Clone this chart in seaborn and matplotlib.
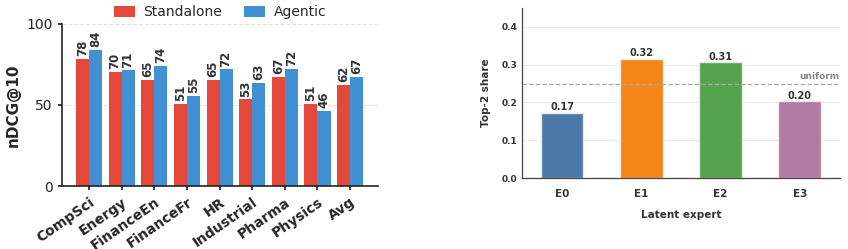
import matplotlib
matplotlib.use("Agg")
import matplotlib.pyplot as plt
import seaborn as sns
import pandas as pd

domains = ["CompSci", "Energy", "FinanceEn", "FinanceFr", "HR", "Industrial", "Pharma", "Physics", "Avg"]
standalone = [78.4, 70.2, 65.3, 50.8, 65.4, 53.4, 67.3, 50.8, 62.3]
agentic = [84.2, 71.3, 74.1, 55.4, 72.0, 63.4, 72.3, 46.3, 67.4]
methods = ["Standalone", "Agentic"]

experts = ["E0", "E1", "E2", "E3"]
shares = [0.172, 0.315, 0.306, 0.203]
uniform = 0.25

sns.set_theme(style="white")
plt.rcParams["font.family"] = ["DejaVu Sans"]

fig = plt.figure(figsize=(8.48, 2.49), dpi=100)
ax1 = fig.add_axes([0.073, 0.253, 0.373, 0.651])
ax2 = fig.add_axes([0.616, 0.285, 0.374, 0.683])

df = pd.DataFrame({
    "domain": domains * 2,
    "value": standalone + agentic,
    "method": ["Standalone"] * len(domains) + ["Agentic"] * len(domains),
})
sns.barplot(data=df, x="domain", y="value", hue="method", hue_order=methods,
            palette=["#e3483b", "#4190d3"], width=0.8, ax=ax1, legend=True,
            saturation=1, linewidth=0)
ax1.set_xlim(-0.83, 8.86)
ax1.set_ylim(0, 100)
ax1.set_yticks([0, 50, 100])
ax1.yaxis.grid(True, linestyle="--", color="#e3e3e3", linewidth=0.8)
ax1.set_axisbelow(True)
for c in ax1.containers:
    ax1.bar_label(c, labels=[f"{v:.0f}" for v in c.datavalues], rotation=90,
                  padding=2, fontsize=8.5, fontweight="bold", color="#333333")
ax1.set_xlabel("")
ax1.set_ylabel("nDCG@10", fontsize=11, fontweight="bold")
ax1.tick_params(axis="y", labelsize=10, length=3, left=True, colors="#222222")
ax1.tick_params(axis="x", length=3, bottom=True)
plt.setp(ax1.get_xticklabels(), rotation=35, ha="right", rotation_mode="anchor",
         fontsize=10, fontweight="bold")
for s in ["top", "right"]:
    ax1.spines[s].set_visible(False)
for s in ["left", "bottom"]:
    ax1.spines[s].set_color("#222222")
    ax1.spines[s].set_linewidth(1.2)
ax1.legend(loc="lower center", bbox_to_anchor=(0.5, 1.02), ncol=2, frameon=False,
           fontsize=10, handlelength=1.5, handleheight=0.9, columnspacing=1.6,
           handletextpad=0.6, borderaxespad=0, borderpad=0.1)

df2 = pd.DataFrame({"expert": experts, "share": shares})
sns.barplot(data=df2, x="expert", y="share", hue="expert",
            palette=["#4c78a8", "#f58518", "#54a24b", "#b279a2"], width=0.54,
            ax=ax2, legend=False, saturation=1, edgecolor="#e8e8e8", linewidth=1)
ax2.set_ylim(0, 0.45)
ax2.set_xlim(-0.5, 3.5)
ax2.set_yticks([0.0, 0.1, 0.2, 0.3, 0.4])
ax2.set_yticklabels([f"{t:.1f}" for t in [0.0, 0.1, 0.2, 0.3, 0.4]])
ax2.yaxis.grid(True, color="#ececec", linewidth=0.8)
ax2.set_axisbelow(True)
ax2.axhline(uniform, color="#aaaaaa", linestyle="--", linewidth=0.9, zorder=1)
ax2.text(3.5, uniform + 0.006, "uniform", ha="right", va="bottom", fontsize=6.5,
         fontweight="bold", color="#888888")
for c in ax2.containers:
    ax2.bar_label(c, labels=[f"{v:.2f}" for v in c.datavalues], padding=0.5,
                  fontsize=7, fontweight="bold", color="#333333")
ax2.set_xlabel("Latent expert", fontsize=7.5, fontweight="bold", color="#333333", labelpad=8)
ax2.set_ylabel("Top-2 share", fontsize=7.5, fontweight="bold", color="#333333", labelpad=8)
ax2.tick_params(axis="y", labelsize=6.5, length=0, colors="#333333")
ax2.tick_params(axis="x", labelsize=7.5, length=0, colors="#333333", pad=8)
for lbl in ax2.get_xticklabels() + ax2.get_yticklabels():
    lbl.set_fontweight("bold")
for s in ["top", "right"]:
    ax2.spines[s].set_visible(False)
for s in ["left", "bottom"]:
    ax2.spines[s].set_color("#444444")
    ax2.spines[s].set_linewidth(0.9)

fig.savefig("out.png", dpi=100)
